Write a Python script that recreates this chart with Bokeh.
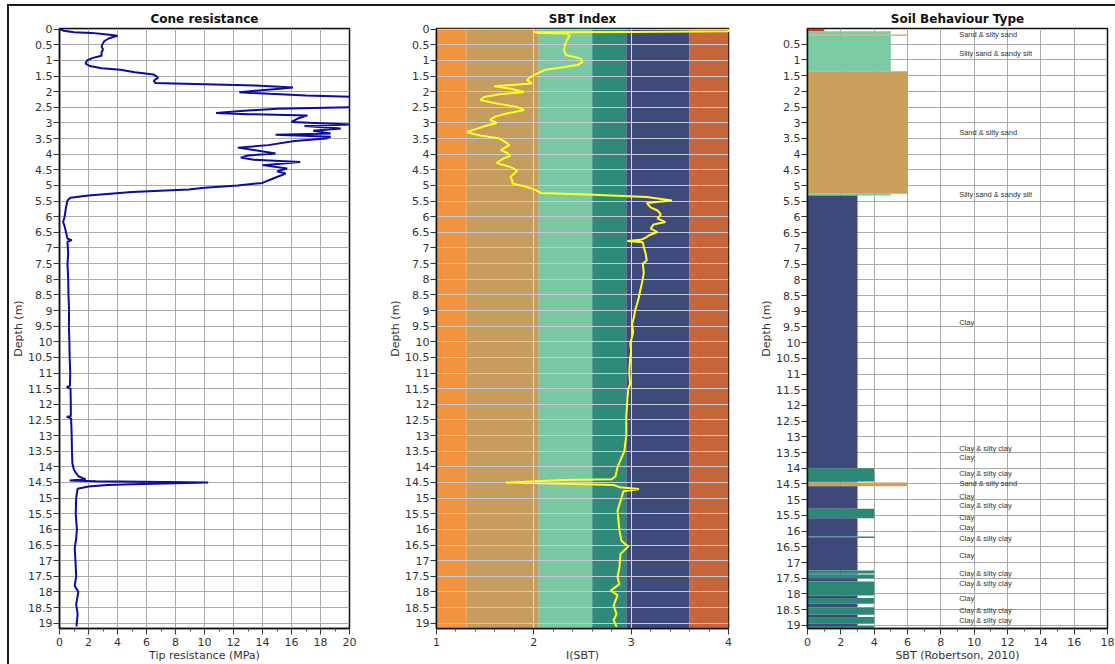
from bokeh.plotting import figure
from bokeh.layouts import row
from bokeh.models import Range1d, FixedTicker, NumeralTickFormatter
from bokeh.core.properties import value
from bokeh.embed import file_html
from bokeh.resources import INLINE

# ---------------- data ----------------
qc_depth = [0.00, 0.05, 0.10, 0.12, 0.17, 0.21, 0.25, 0.30, 0.38, 0.45, 0.55, 0.65, 0.75, 0.85,
            0.92, 1.00, 1.10, 1.18, 1.25, 1.30, 1.38, 1.45, 1.55, 1.65, 1.72, 1.76, 1.80, 1.87,
            1.92, 1.97, 2.02, 2.07, 2.12, 2.17, 2.25, 2.40, 2.49, 2.55, 2.62, 2.68, 2.72, 2.76,
            2.85, 2.97, 3.05, 3.10, 3.18, 3.25, 3.34, 3.38, 3.44, 3.50, 3.58, 3.71, 3.79, 3.86,
            3.98, 4.04, 4.11, 4.18, 4.25, 4.35, 4.46, 4.55, 4.62, 4.73, 4.84, 4.92, 5.00, 5.07,
            5.13, 5.21, 5.32, 5.39, 5.48, 5.70, 6.00, 6.17, 6.30, 6.50, 6.70, 6.75, 6.80, 7.20,
            7.50, 8.00, 8.50, 9.00, 9.50, 10.00, 10.50, 11.00, 11.40, 11.45, 11.50, 12.00, 12.38,
            12.40, 12.45, 13.00, 13.50, 13.90, 14.10, 14.30, 14.40, 14.44, 14.46, 14.50, 14.56,
            14.58, 14.63, 14.70, 15.00, 15.50, 16.00, 16.30, 16.60, 17.00, 17.50, 17.80, 18.00,
            18.40, 18.70, 19.10]
qc_mpa = [0.0, 0.3, 1.0, 2.2, 3.3, 4.0, 3.7, 3.4, 3.1, 3.0, 2.9, 3.0, 2.9, 2.9,
          2.3, 1.9, 1.8, 2.1, 2.9, 4.2, 5.2, 6.5, 6.8, 6.5, 6.6, 10.0, 13.5, 16.1,
          14.8, 13.5, 12.4, 14.5, 17.0, 20.5, 21.0, 21.0, 20.5, 15.0, 12.5, 10.8, 13.0, 17.1,
          16.5, 16.0, 20.2, 16.9, 19.4, 17.5, 18.7, 14.9, 18.7, 18.4, 16.2, 14.4, 12.3, 13.3,
          14.9, 13.0, 12.5, 13.4, 16.6, 14.0, 15.7, 15.0, 15.6, 15.0, 14.4, 14.0, 12.3, 10.0,
          8.9, 5.0, 2.0, 0.75, 0.55, 0.45, 0.35, 0.25, 0.35, 0.45, 0.55, 0.85, 0.55, 0.60,
          0.55, 0.60, 0.62, 0.66, 0.65, 0.68, 0.70, 0.74, 0.72, 0.50, 0.76, 0.78, 0.78,
          0.50, 0.80, 0.84, 0.86, 0.89, 1.00, 1.30, 1.80, 0.70, 2.50, 10.25, 5.00,
          3.30, 2.00, 1.25, 1.15, 1.12, 1.20, 1.15, 1.05, 1.10, 1.15, 1.05, 1.30,
          1.15, 1.25, 1.17]

ic_depth = [0.00, 0.07, 0.09, 0.10, 0.12, 0.14, 0.20, 0.35, 0.50, 0.67, 0.83, 0.94, 1.05, 1.15,
            1.22, 1.30, 1.37, 1.47, 1.55, 1.63, 1.74, 1.80, 1.83, 1.90, 2.01, 2.08, 2.17, 2.27,
            2.38, 2.49, 2.59, 2.70, 2.80, 2.90, 3.00, 3.10, 3.20, 3.30, 3.40, 3.50, 3.60, 3.70,
            3.80, 3.87, 3.95, 4.05, 4.15, 4.28, 4.40, 4.52, 4.62, 4.73, 4.85, 4.94, 5.05, 5.15,
            5.24, 5.29, 5.37, 5.48, 5.56, 5.70, 5.80, 5.90, 5.96, 6.05, 6.17, 6.25, 6.38, 6.49,
            6.60, 6.65, 6.74, 6.78, 6.82, 6.97, 7.20, 7.40, 7.50, 7.80, 8.14, 8.40, 8.57, 8.80,
            9.00, 9.20, 9.43, 9.70, 10.07, 10.30, 10.50, 11.00, 11.35, 11.50, 11.90, 12.40, 12.50,
            13.00, 13.50, 14.00, 14.30, 14.40, 14.42, 14.50, 14.55, 14.58, 14.65, 14.71, 14.78,
            15.00, 15.40, 15.73, 16.04, 16.36, 16.55, 16.79, 17.20, 17.54, 17.75, 17.96, 18.10,
            18.44, 18.71, 18.90, 19.12]
ic_value = [4.00, 4.00, 3.00, 2.00, 2.05, 2.34, 2.37, 2.34, 2.32, 2.31, 2.33, 2.48, 2.50, 2.45,
            2.30, 2.12, 2.07, 2.00, 1.96, 1.93, 1.98, 1.70, 1.59, 1.75, 1.90, 1.65, 1.49, 1.45,
            1.62, 1.83, 1.90, 1.72, 1.60, 1.55, 1.62, 1.50, 1.40, 1.31, 1.45, 1.65, 1.70, 1.75,
            1.70, 1.66, 1.72, 1.76, 1.68, 1.62, 1.75, 1.83, 1.80, 1.76, 1.78, 1.78, 1.93, 2.02,
            2.07, 2.55, 3.16, 3.42, 3.16, 3.20, 3.27, 3.30, 3.30, 3.27, 3.35, 3.23, 3.20, 3.27,
            3.18, 3.16, 3.10, 2.96, 3.12, 3.13, 3.15, 3.16, 3.12, 3.13, 3.11, 3.09, 3.08, 3.06,
            3.04, 3.03, 3.01, 3.02, 2.99, 3.00, 2.99, 2.98, 2.99, 2.97, 2.96, 2.95, 2.95,
            2.95, 2.93, 2.86, 2.84, 2.80, 2.30, 1.71, 2.40, 2.82, 2.88, 3.08, 2.92,
            2.90, 2.86, 2.87, 2.88, 2.90, 2.97, 2.89, 2.88, 2.86, 2.88, 2.79, 2.86,
            2.82, 2.85, 2.82, 2.85]

# SBT index zone boundaries (Robertson) and colours
zone_left = [1.00, 1.31, 2.05, 2.60, 2.95, 3.60]
zone_right = [1.31, 2.05, 2.60, 2.95, 3.60, 4.00]
zone_colors = ["#F5943E", "#C59C5E", "#7CC8A5", "#2F8B78", "#3D4A7A", "#C6663A"]

# Soil behaviour type layers
sbt_top = [0.00, 0.09, 0.19, 0.23, 1.36, 5.26, 5.32, 14.00, 14.42, 14.45, 14.57, 15.29, 15.59,
           16.17, 16.22, 17.25, 17.35, 17.38, 17.50, 17.60, 18.05, 18.13, 18.31, 18.42, 18.66,
           18.73, 18.95, 19.02]
sbt_bottom = [0.09, 0.19, 0.23, 1.36, 5.26, 5.32, 14.00, 14.42, 14.45, 14.57, 15.29, 15.59, 16.17,
              16.22, 17.25, 17.35, 17.38, 17.50, 17.60, 18.05, 18.13, 18.31, 18.42, 18.66, 18.73,
              18.95, 19.02, 19.10]
sbt_zone = [1, 5, 6, 5, 6, 5, 3, 4, 3, 6, 3, 4, 3, 4, 3, 4, 3, 4, 3, 4, 3, 4, 3, 4, 3, 4, 3, 4]
sbt_zone_colors = {1: "#D8321F", 3: "#3E4879", 4: "#2B8876", 5: "#7BCBA5", 6: "#C9A05C"}

sbt_label_depth = [0.20, 0.80, 3.30, 5.30, 9.37, 13.36, 13.65, 14.18, 14.48, 14.91, 15.19, 15.56,
                   15.90, 16.25, 16.77, 17.34, 17.67, 18.13, 18.54, 18.84]
sbt_label_text = ["Sand & silty sand", "Silty sand & sandy silt", "Sand & silty sand",
                  "Silty sand & sandy silt", "Clay", "Clay & silty clay", "Clay",
                  "Clay & silty clay", "Sand & silty sand", "Clay", "Clay & silty clay", "Clay",
                  "Clay", "Clay & silty clay", "Clay", "Clay & silty clay", "Clay & silty clay",
                  "Clay", "Clay & silty clay", "Clay & silty clay"]

depth_ticks = [i * 0.5 for i in range(39)]
qc_ticks = [0, 2, 4, 6, 8, 10, 12, 14, 16, 18, 20]
qc_minor = [1, 3, 5, 7, 9, 11, 13, 15, 17, 19]
ic_ticks = [1, 2, 3, 4]
ic_minor = [1.2, 1.4, 1.6, 1.8, 2.2, 2.4, 2.6, 2.8, 3.2, 3.4, 3.6, 3.8]
sbt_ticks = [0, 2, 4, 6, 8, 10, 12, 14, 16, 18]
sbt_minor = [1, 3, 5, 7, 9, 11, 13, 15, 17]

FONT = "DejaVu Sans"


def make_fig(title, xlabel, width, bl, br, xr, yr, xticks, xminor, yticks):
    p = figure(width=width, height=658, x_range=xr, y_range=yr,
               output_backend="svg", toolbar_location=None,
               min_border_left=bl, min_border_right=br, min_border_top=22, min_border_bottom=30)
    p.title.text = title
    p.title.align = "center"
    p.title.text_font = FONT
    p.title.text_font_size = "12px"
    p.title.text_font_style = "bold"
    p.title.text_color = "#111111"
    p.title.standoff = 5
    p.title.offset = 0
    p.outline_line_color = "#111111"
    p.outline_line_width = 1.5
    p.xaxis.axis_label = xlabel
    p.yaxis.axis_label = "Depth (m)"
    p.xaxis.ticker = FixedTicker(ticks=xticks, minor_ticks=xminor)
    p.yaxis.ticker = FixedTicker(ticks=yticks)
    p.yaxis.formatter = NumeralTickFormatter(format="0.[0]")
    p.xaxis.formatter = NumeralTickFormatter(format="0.[0]")
    for ax in (p.xaxis, p.yaxis):
        ax.axis_label_text_font = FONT
        ax.axis_label_text_font_size = "11px"
        ax.axis_label_text_font_style = "normal"
        ax.axis_label_text_color = "#333333"
        ax.major_label_text_font = FONT
        ax.major_label_text_font_size = "11px"
        ax.major_label_text_color = "#333333"
        ax.axis_line_color = "#111111"
        ax.axis_line_width = 1.5
        ax.major_tick_line_color = "#333333"
        ax.major_tick_out = 6
        ax.major_tick_in = 0
        ax.minor_tick_out = 3
        ax.minor_tick_in = 0
        ax.minor_tick_line_color = "#555555"
        ax.major_label_standoff = 1
        ax.axis_label_standoff = 0
    p.xaxis.major_label_standoff = 3
    p.yaxis.minor_tick_line_color = None
    p.grid.grid_line_color = "#AAAAAA"
    p.grid.grid_line_width = 1
    return p


# ---- Cone resistance
p1 = make_fig("Cone resistance", "Tip resistance (MPa)", 363, 44, 23,
              Range1d(0, 20), Range1d(19.17, -0.02), qc_ticks, qc_minor, depth_ticks)
p1.line(qc_mpa, qc_depth, line_color="#0A0AA5", line_width=2)

# ---- SBT index
p2 = make_fig("SBT Index", "I(SBT)", 373, 64, 17,
              Range1d(1, 4), Range1d(19.17, -0.02), ic_ticks, ic_minor, depth_ticks)
p2.quad(left=zone_left, right=zone_right, bottom=[19.17] * 6, top=[-0.02] * 6,
        fill_color=zone_colors, line_color=None)
p2.grid.level = "glyph"
p2.ygrid.grid_line_color = "#C8C8D2"
p2.xgrid.grid_line_color = "#D6D6E6"
r = p2.line(ic_value, ic_depth, line_color="#FFFF22", line_width=2)
r.level = "annotation"

# ---- Soil behaviour type
p3 = make_fig("Soil Behaviour Type", "SBT (Robertson, 2010)", 370, 62, 8,
              Range1d(0, 18), Range1d(19.1, 0), sbt_ticks, sbt_minor, depth_ticks[1:])
p3.quad(left=[0] * len(sbt_zone), right=sbt_zone, top=sbt_top, bottom=sbt_bottom,
        fill_color=[sbt_zone_colors[z] for z in sbt_zone], line_color=None)
p3.text(x=[9.1] * len(sbt_label_text), y=sbt_label_depth, text=sbt_label_text,
        text_font_size="7.5px", text_color="#333333", text_baseline="middle", text_align="left",
        text_font=value("Liberation Sans"))

layout = row(p1, p2, p3, margin=(4, 0, 0, 7),
             styles={"border-top": "2px solid #1a1a1a", "border-left": "2px solid #1a1a1a"})

open("out.html", "w").write(file_html(layout, INLINE))
